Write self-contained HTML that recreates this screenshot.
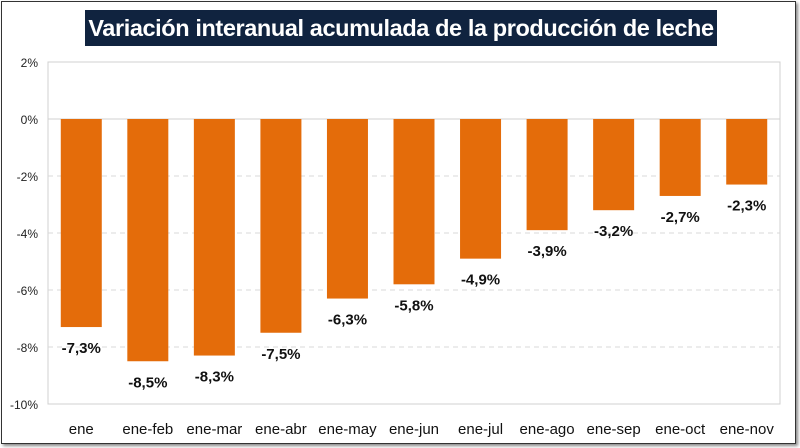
<!DOCTYPE html>
<html><head><meta charset="utf-8"><style>
html,body{margin:0;padding:0;background:#fff;}
body{width:800px;height:448px;overflow:hidden;position:relative;font-family:"Liberation Sans",sans-serif;}
#frame{position:absolute;left:1px;top:1px;width:793px;height:441px;border:1.5px solid #333;box-shadow:2px 2px 3px #888;}
#title{position:absolute;left:85px;top:10px;width:632px;height:36px;background:#10233f;color:#fff;font-weight:bold;font-size:23.5px;line-height:36px;text-align:center;letter-spacing:-0.4px;white-space:nowrap;overflow:hidden;}
svg{position:absolute;left:0;top:0;}
</style></head><body>
<div id="frame"></div>
<div id="title">Variación interanual acumulada de la producción de leche</div>
<svg id="chart" width="800" height="448"></svg>
<script>
const categories=["ene","ene-feb","ene-mar","ene-abr","ene-may","ene-jun","ene-jul","ene-ago","ene-sep","ene-oct","ene-nov"];
const values=[-7.3,-8.5,-8.3,-7.5,-6.3,-5.8,-4.9,-3.9,-3.2,-2.7,-2.3];
const valueLabels=["-7,3%","-8,5%","-8,3%","-7,5%","-6,3%","-5,8%","-4,9%","-3,9%","-3,2%","-2,7%","-2,3%"];
const ticks=[2,0,-2,-4,-6,-8,-10];
const tickLabels=["2%","0%","-2%","-4%","-6%","-8%","-10%"];
const svg=document.getElementById('chart');const NS='http://www.w3.org/2000/svg';
const L=48,R=780,T=62,B=404,ymax=2,ymin=-10;
const y=v=>T+(ymax-v)/(ymax-ymin)*(B-T);
const step=(R-L)/categories.length;const x=i=>L+step*(i+0.5);
function mk(t,a,txt){const e=document.createElementNS(NS,t);for(const k in a)e.setAttribute(k,a[k]);if(txt!=null)e.textContent=txt;svg.appendChild(e);return e;}
let e=mk('rect',{x:L,y:T,width:R-L,height:B-T,fill:'#fff',stroke:'#d0d0d0'});


ticks.forEach((t,i)=>{
 if(t!==ymax&&t!==ymin){let g=mk('line',{x1:L,x2:R,y1:y(t),y2:y(t),stroke:t===0?'#d0d0d0':'#d9d9d9','stroke-dasharray':t===0?'':'5,4'});
 
 }
 let l=mk('text',{x:38,y:y(t)+5,'text-anchor':'end','font-size':12,fill:'#222'},tickLabels[i]);
 
 
});
const bw=41;
values.forEach((v,i)=>{
 let r=mk('rect',{x:x(i)-bw/2,y:y(0),width:bw,height:y(v)-y(0),fill:'#e46c0a'});
 
 
 let t=mk('text',{x:x(i),y:y(v)+26,'text-anchor':'middle','font-size':15,'font-weight':'bold',fill:'#111'},valueLabels[i]);
 
 
 let c=mk('text',{x:x(i),y:434,'text-anchor':'middle','font-size':15,fill:'#111'},categories[i]);
 
 
});
</script>
</body></html>
